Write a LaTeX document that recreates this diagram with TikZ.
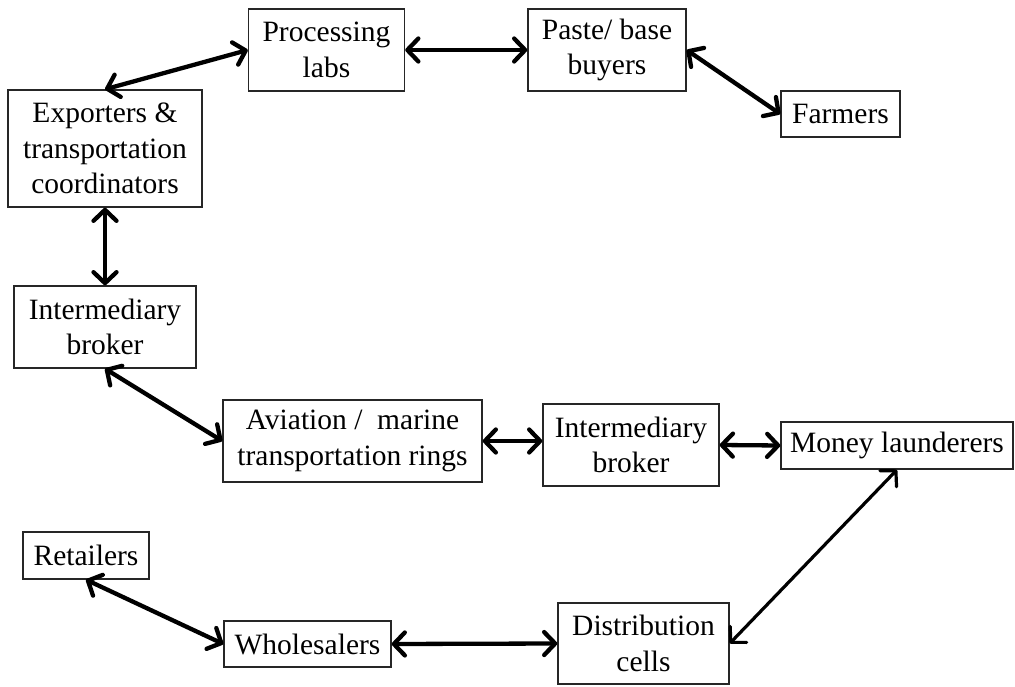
\documentclass[tikz,border=0pt]{standalone}
\usepackage{fontspec}
\setmainfont{Liberation Serif}
\usetikzlibrary{arrows.meta}
\begin{document}
\begin{tikzpicture}[x=1pt,y=-1pt,
  box/.style={draw=black!85, line width=1.4pt, rectangle, inner sep=0pt, align=center,
    font=\fontsize{29.5}{35.5}\selectfont, text=black},
  link/.style={line width=4.3pt, black,
    {Straight Barb[length=11pt,width=23pt,round]}-{Straight Barb[length=11pt,width=23pt,round]}}]
\useasboundingbox (0,0) rectangle (1015,687);
\node[box, minimum width=156pt, minimum height=82pt] (proc) at (326.5,50) {Processing\\labs};
\node[box, minimum width=158pt, minimum height=82pt] (paste) at (607,50) {Paste/ base\\buyers};
\node[box, minimum width=119pt, minimum height=46pt] (farm) at (840.5,114) {Farmers};
\node[box, minimum width=194pt, minimum height=117pt] (exp) at (105,148.5) {Exporters \&\\transportation\\coordinators};
\node[box, minimum width=182pt, minimum height=82pt] (brokL) at (105,327) {Intermediary\\broker};
\node[box, minimum width=259pt, minimum height=82pt] (avi) at (352.5,441) {Aviation /\ \ marine\\transportation rings};
\node[box, minimum width=176pt, minimum height=82pt] (brokM) at (631,445) {Intermediary\\broker};
\node[box, minimum width=232pt, minimum height=47pt] (money) at (897,445.5) {Money launderers};
\node[box, minimum width=126pt, minimum height=47pt] (retail) at (86,555.5) {Retailers};
\node[box, minimum width=167pt, minimum height=46pt] (whole) at (307.5,644) {Wholesalers};
\node[box, minimum width=171pt, minimum height=81pt] (dist) at (643.5,643.5) {Distribution\\cells};

\draw[link] (exp.north) -- (proc.west);
\draw[link] (proc.east) -- (paste.west);
\draw[link] (paste.east) -- (farm.west);
\draw[link] (exp.south) -- (brokL.north);
\draw[link] (brokL.south) -- (avi.west);
\draw[link] (avi.east) -- (brokM.west |- avi.east);
\draw[link] (brokM.east) -- (money.west);
\draw[link, line width=3.2pt] (money.south) -- (dist.east);
\draw[link] (dist.west) -- (whole.east);
\draw[link] (whole.west) -- (retail.south);
\end{tikzpicture}
\end{document}
